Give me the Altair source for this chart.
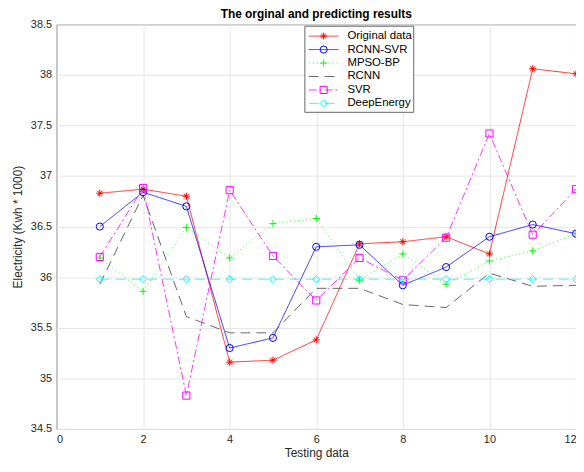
import altair as alt
import pandas as pd

# ---------------- data ----------------
x_vals = [1, 2, 3, 4, 5, 6, 7, 8, 9, 10, 11, 12]
series_names = ["Original data", "RCNN-SVR", "MPSO-BP", "RCNN", "SVR", "DeepEnergy"]
original = [36.83, 36.87, 36.80, 35.16, 35.18, 35.38, 36.33, 36.35, 36.40, 36.23, 38.06, 38.01]
rcnn_svr = [36.50, 36.84, 36.70, 35.30, 35.40, 36.30, 36.32, 35.92, 36.10, 36.40, 36.52, 36.43]
mpso_bp = [36.19, 35.86, 36.49, 36.19, 36.53, 36.58, 35.97, 36.23, 35.93, 36.16, 36.26, 36.43]
rcnn = [35.93, 36.81, 35.61, 35.45, 35.45, 35.89, 35.89, 35.73, 35.70, 36.04, 35.91, 35.92]
svr = [36.20, 36.88, 34.83, 36.86, 36.21, 35.77, 36.19, 35.97, 36.39, 37.42, 36.42, 36.87]
deep_energy = [35.98, 35.98, 35.98, 35.98, 35.98, 35.98, 35.98, 35.98, 35.98, 35.98, 35.98, 35.98]
y_ticks = [34.5, 35, 35.5, 36, 36.5, 37, 37.5, 38, 38.5]
x_ticks = [0, 2, 4, 6, 8, 10, 12]

all_series = [original, rcnn_svr, mpso_bp, rcnn, svr, deep_energy]
rows = []
for name, vals in zip(series_names, all_series):
    for xv, yv in zip(x_vals, vals):
        rows.append({"series": name, "x": xv, "y": yv})
df = pd.DataFrame(rows)

# ---------------- styles ----------------
colors = ["#ff0000", "#0000ff", "#00ff00", "#404040", "#ff00ff", "#00ffff"]
asterisk = "M-1,0L1,0M0,-1L0,1M-0.7,-0.7L0.7,0.7M-0.7,0.7L0.7,-0.7"
plus = "M-1,0L1,0M0,-1L0,1"
shapes = [asterisk, "circle", plus, "circle", "square", "diamond"]
dashes = [[1, 0], [1, 0], [1, 3], [10, 6], [8, 3, 2, 3], [10, 6]]

color_enc = alt.Color("series:N", scale=alt.Scale(domain=series_names, range=colors), legend=None)
dash_enc = alt.StrokeDash("series:N", scale=alt.Scale(domain=series_names, range=dashes), legend=None)
shape_enc = alt.Shape("series:N", scale=alt.Scale(domain=series_names, range=shapes), legend=None)

font = "Liberation Sans"

x_enc = alt.X("x:Q", scale=alt.Scale(domain=[0, 12], nice=False),
              axis=alt.Axis(values=x_ticks, title="Testing data", grid=True))
y_enc = alt.Y("y:Q", scale=alt.Scale(domain=[34.5, 38.5], nice=False, zero=False),
              axis=alt.Axis(values=y_ticks, format=".1~f", title="Electricity (Kwh * 1000)", grid=True))

lines = alt.Chart(df).mark_line(strokeWidth=0.8).encode(
    x=x_enc, y=y_enc, color=color_enc, strokeDash=dash_enc,
    order=alt.Order("x:Q"))

points = alt.Chart(df).transform_filter(alt.datum.series != "RCNN").mark_point(
    filled=False, strokeWidth=1, size=52, opacity=1).encode(
    x="x:Q", y="y:Q", color=color_enc, shape=shape_enc)

# ---------------- manual legend ----------------
leg_rows = []
for i, name in enumerate(series_names):
    leg_rows.append({"series": name, "ly": 12 + i * 13.6, "lx1": 255, "lx2": 285, "lxm": 270, "lxt": 294})
leg = pd.DataFrame(leg_rows)

box = alt.Chart(alt.Data(values=[{"a": 1}])).mark_rect(
    fill="white", stroke="#666666", strokeWidth=1).encode(
    x=alt.value(251), x2=alt.value(361), y=alt.value(2), y2=alt.value(89))

leg_lines = alt.Chart(leg).mark_rule(strokeWidth=0.8).encode(
    x=alt.X("lx1:Q", scale=None, axis=None), x2="lx2:Q",
    y=alt.Y("ly:Q", scale=None, axis=None),
    color=color_enc, strokeDash=dash_enc)

leg_pts = alt.Chart(leg).transform_filter(alt.datum.series != "RCNN").mark_point(
    filled=False, strokeWidth=1, size=52, opacity=1).encode(
    x=alt.X("lxm:Q", scale=None, axis=None),
    y=alt.Y("ly:Q", scale=None, axis=None),
    color=color_enc, shape=shape_enc)

leg_text = alt.Chart(leg).mark_text(align="left", baseline="middle", font=font,
                                    fontSize=11.5, color="black").encode(
    x=alt.X("lxt:Q", scale=None, axis=None),
    y=alt.Y("ly:Q", scale=None, axis=None),
    text="series:N")

chart = alt.layer(lines, points, box, leg_lines, leg_pts, leg_text).properties(
    width=525, height=409,
    title=alt.TitleParams("The orginal and predicting results", font=font, fontSize=12,
                          fontWeight="bold", color="black", offset=-3, anchor="middle",
                          frame="group"),
    autosize=alt.AutoSizeParams(type="none"),
    padding={"left": 49, "top": 14, "right": 0, "bottom": 33},
).configure_view(stroke="#555555", strokeWidth=1).configure_axis(
    labelFont=font, labelFontSize=11, labelColor="#262626",
    titleFont=font, titleFontSize=12, titleFontWeight="normal", titleColor="#262626",
    ticks=False, domain=False, gridColor="#e6e6e6", gridWidth=1, labelPadding=5,
).configure_axisX(titlePadding=3).configure_axisY(titlePadding=6)

chart.save("out.html", embed_options={"renderer": "svg", "actions": False})
